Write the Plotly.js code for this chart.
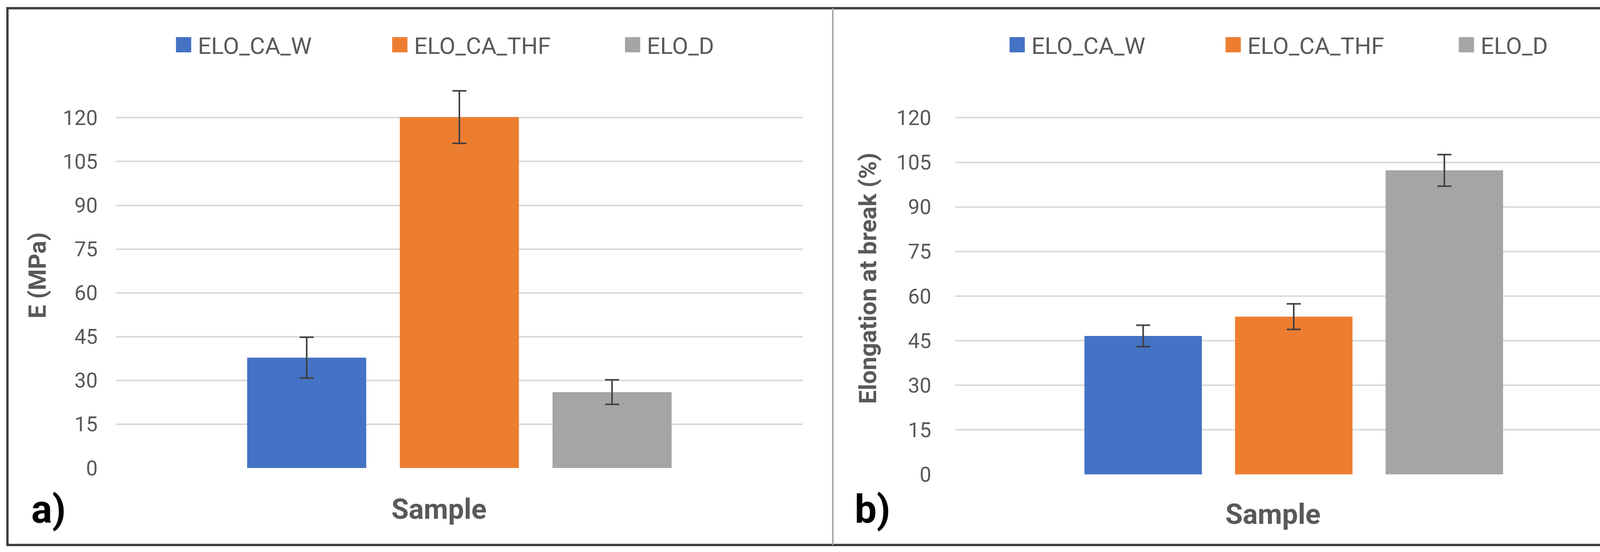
<!DOCTYPE html>
<html><head><meta charset="utf-8">
<script src="https://cdn.plot.ly/plotly-3.0.1.min.js"></script>
<style>html,body{margin:0;padding:0;background:#fff;overflow:hidden}</style>
</head><body><div id="chart" style="width:4307px;height:1413px"></div>
<script>
const W = 4307, H = 1413;
const series = ['ELO_CA_W', 'ELO_CA_THF', 'ELO_D'];
const category = ['Sample'];
const modulusMPa = [37.8, 120.2, 26.0];
const modulusErr = [7.0, 9.0, 4.2];
const elongationPct = [46.6, 53.1, 102.3];
const elongationErr = [3.6, 4.3, 5.3];
const yTicks = [0, 15, 30, 45, 60, 75, 90, 105, 120];
const colors = ['#4472C4', '#ED7D31', '#A5A5A5'];

const px = v => v / W;
const py = v => 1 - v / H;
const GRAY = '#595959';
const FONT = 'Roboto, "Liberation Sans", Arial, sans-serif';

const legendCenters = [470, 1023.5, 1619.5, 2604, 3157, 3754];
const legendIds = ['legend', 'legend2', 'legend3', 'legend4', 'legend5', 'legend6'];

const traces = [];
series.forEach((name, i) => {
  traces.push({
    type: 'bar', x: category, y: [modulusMPa[i]], name: name,
    marker: {color: colors[i]},
    error_y: {type: 'data', array: [modulusErr[i]], color: '#404040', thickness: 4, width: 18},
    xaxis: 'x', yaxis: 'y', legend: legendIds[i], showlegend: true, cliponaxis: false, hoverinfo: 'none'
  });
});
series.forEach((name, i) => {
  traces.push({
    type: 'bar', x: category, y: [elongationPct[i]], name: name,
    marker: {color: colors[i]},
    error_y: {type: 'data', array: [elongationErr[i]], color: '#404040', thickness: 4, width: 18},
    xaxis: 'x2', yaxis: 'y2', legend: legendIds[i + 3], showlegend: true, cliponaxis: false, hoverinfo: 'none'
  });
});

const yCommon = {
  range: [0, 132], tickvals: yTicks, ticktext: yTicks.map(String),
  showgrid: true, gridcolor: '#d9d9d9', gridwidth: 4,
  zeroline: false, showline: false, ticks: '',
  tickfont: {family: FONT, size: 53, color: GRAY}
};
const xCommon = {
  type: 'category', showticklabels: false, showgrid: false, zeroline: false, showline: false, ticks: ''
};

const layout = {
  width: W, height: H,
  margin: {l: 0, r: 0, t: 0, b: 0, pad: 0},
  paper_bgcolor: '#ffffff', plot_bgcolor: '#ffffff',
  showlegend: true,
  barmode: 'group', bargap: 0.333, bargroupgap: 0.22,
  xaxis: Object.assign({}, xCommon, {domain: [px(297), px(2055)], anchor: 'y'}),
  yaxis: Object.assign({}, yCommon, {domain: [py(1198), py(211.7)], anchor: 'x', ticklabelstandoff: 46,
    title: {text: '<b>E (MPa)</b>', standoff: 22, font: {family: FONT, size: 62, color: GRAY}}}),
  xaxis2: Object.assign({}, xCommon, {domain: [px(2445), px(4179)], anchor: 'y2'}),
  yaxis2: Object.assign({}, yCommon, {domain: [py(1214.5), py(210.1)], anchor: 'x2', ticklabelstandoff: 60,
    title: {text: '<b>Elongation at break (%)</b>', standoff: 30, font: {family: FONT, size: 62, color: GRAY}}}),
  annotations: [
    {text: '<b>Sample</b>', x: px(1124), y: py(1303), xref: 'paper', yref: 'paper',
     showarrow: false, xanchor: 'center', yanchor: 'middle', font: {family: FONT, size: 72, color: GRAY}},
    {text: '<b>Sample</b>', x: px(3259), y: py(1316), xref: 'paper', yref: 'paper',
     showarrow: false, xanchor: 'center', yanchor: 'middle', font: {family: FONT, size: 72, color: GRAY}},
    {text: '<b>a)</b>', x: px(78), y: py(1303), xref: 'paper', yref: 'paper',
     showarrow: false, xanchor: 'left', yanchor: 'middle', font: {family: FONT, size: 100, color: '#000000'}},
    {text: '<b>b)</b>', x: px(2186), y: py(1303), xref: 'paper', yref: 'paper',
     showarrow: false, xanchor: 'left', yanchor: 'middle', font: {family: FONT, size: 100, color: '#000000'}}
  ],
  shapes: [
    {type: 'rect', xref: 'paper', yref: 'paper', x0: px(19), x1: px(4285), y0: py(1395), y1: py(21),
     line: {color: '#404040', width: 6}, fillcolor: 'rgba(0,0,0,0)', layer: 'above'},
    {type: 'line', xref: 'paper', yref: 'paper', x0: px(2132), x1: px(2132), y0: py(1395), y1: py(21),
     line: {color: '#a6a6a6', width: 4}, layer: 'above'}
  ]
};

legendIds.forEach((id, k) => {
  layout[id] = {
    x: px(legendCenters[k] - 36.5), xanchor: 'left', y: py(114.5), yanchor: 'middle',
    orientation: 'h', itemwidth: 63, borderwidth: 0, bgcolor: 'rgba(0,0,0,0)', visible: true,
    font: {family: FONT, size: 60, color: GRAY}, itemclick: false, itemdoubleclick: false
  };
});

const BIG = 'M19.5,19.5H-19.5V-19.5H19.5Z';
function fixLegendSymbols() {
  document.querySelectorAll('.legendpoints path').forEach(p => {
    if (p.getAttribute('d') !== BIG) p.setAttribute('d', BIG);
  });
}

Plotly.newPlot('chart', traces, layout, {staticPlot: true, displayModeBar: false, responsive: false})
  .then(gd => {
    fixLegendSymbols();
    gd.on && gd.on('plotly_afterplot', fixLegendSymbols);
    const obs = new MutationObserver(fixLegendSymbols);
    obs.observe(gd, {subtree: true, childList: true, attributes: true, attributeFilter: ['d']});
    [20, 100, 300, 800, 1500].forEach(t => setTimeout(fixLegendSymbols, t));
  });
</script>
</body></html>
